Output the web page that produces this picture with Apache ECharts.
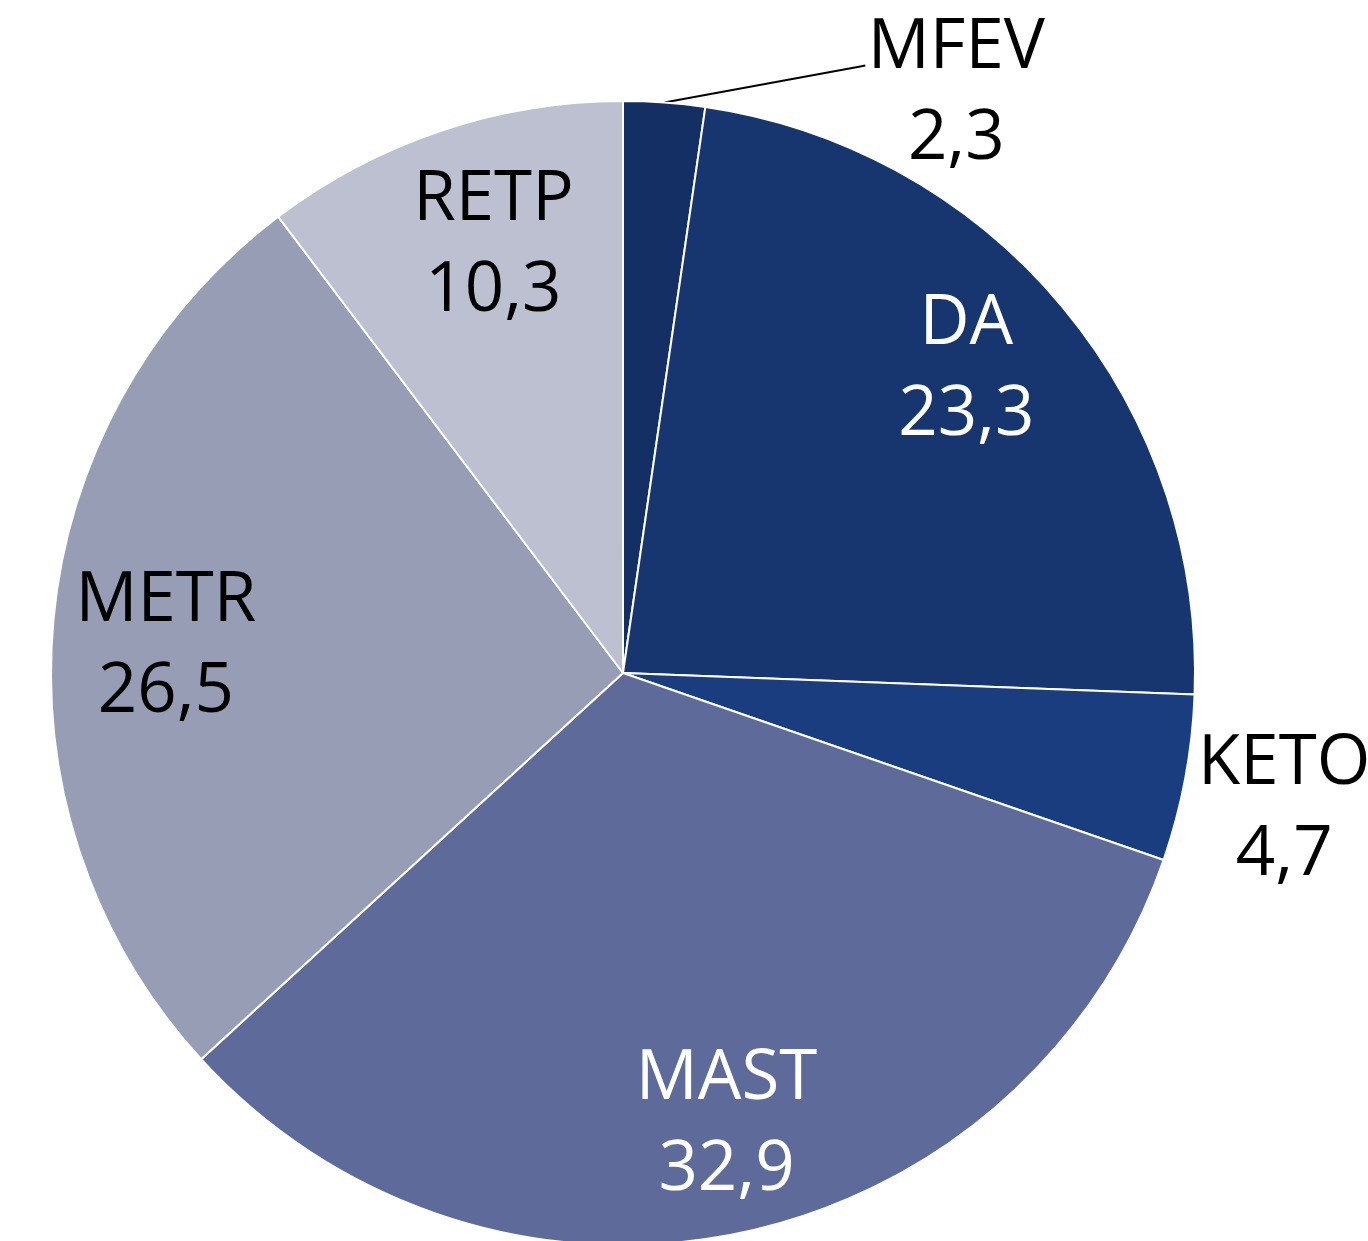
<!DOCTYPE html>
<html>
<head>
<meta charset="utf-8">
<script src="https://cdn.jsdelivr.net/npm/echarts@6/dist/echarts.min.js"></script>
<style>
html,body{margin:0;padding:0;background:#fff;}
#c{width:1368px;height:1241px;}
</style>
</head>
<body>
<div id="c"></div>
<script>
const categories = ['MFEV', 'DA', 'KETO', 'MAST', 'METR', 'RETP'];
const values = [2.3, 23.3, 4.7, 32.9, 26.5, 10.3];
const colors = ['#142f63', '#17366f', '#1a3d80', '#5e6b9a', '#989db6', '#bcc0d0'];
const innerLabelColors = { DA: '#ffffff', MAST: '#ffffff', METR: '#000000', RETP: '#000000' };
const outerLabels = ['MFEV', 'KETO'];
// small label nudges (style only)
const innerLabelNudge = { DA: [-11, -8], MAST: [10, 0], METR: [2, 16], RETP: [17, 10] };

const FONT = '"Open Sans", "Noto Sans", sans-serif';
const fmt = p => p.name + '\n' + String(p.value).replace('.', ',');
const labelBase = { fontFamily: FONT, fontSize: 69, lineHeight: 91, formatter: fmt, align: 'center' };

const mainData = categories.map((name, i) => {
  const d = { name, value: values[i], itemStyle: { color: colors[i] } };
  if (outerLabels.includes(name)) {
    d.label = Object.assign({ show: true, position: 'outside', color: '#000' }, labelBase);
    if (name === 'MFEV') {
      d.labelLine = { show: true, length: 10, length2: 190, smooth: false, lineStyle: { color: '#000', width: 1.8 } };
    } else {
      d.labelLine = { show: false, length: 6, length2: 6 };
    }
  } else {
    d.label = { show: false };
    d.labelLine = { show: false };
  }
  return d;
});

const innerData = categories.map((name, i) => {
  const show = !outerLabels.includes(name);
  return {
    name, value: values[i],
    label: Object.assign({ show, position: 'inside', color: innerLabelColors[name] || '#000' }, labelBase)
  };
});

const chart = echarts.init(document.getElementById('c'), null, { renderer: 'canvas' });
chart.setOption({
  backgroundColor: '#ffffff',
  animation: false,
  series: [
    {
      type: 'pie',
      center: [623, 673],
      radius: [0, 572],
      startAngle: 90,
      clockwise: true,
      avoidLabelOverlap: false,
      itemStyle: { borderColor: '#ffffff', borderWidth: 2 },
      emphasis: { disabled: true },
      data: mainData,
      labelLayout: function (params) {
        const name = categories[params.dataIndex];
        const pts = params.labelLinePoints;
        const r = params.labelRect;
        if (name === 'MFEV' && pts) {
          const p0 = pts[0];
          return {
            x: p0[0] + 292, y: p0[1] - 9, align: 'center', verticalAlign: 'middle',
            labelLinePoints: [p0, [p0[0] + 196, p0[1] - 36], [p0[0] + 201, p0[1] - 37]]
          };
        }
        if (name === 'KETO' && r) {
          return {
            x: r.x + r.width / 2 - 4, y: r.y + r.height / 2 + 30,
            align: 'center', verticalAlign: 'middle'
          };
        }
        return {};
      }
    },
    {
      type: 'pie',
      center: [623, 673],
      radius: [344, 572],
      startAngle: 90,
      clockwise: true,
      silent: true,
      avoidLabelOverlap: false,
      itemStyle: { color: 'rgba(0,0,0,0)', borderWidth: 0 },
      labelLine: { show: false },
      data: innerData,
      labelLayout: function (params) {
        const n = innerLabelNudge[categories[params.dataIndex]];
        return n ? { dx: n[0], dy: n[1] } : {};
      }
    }
  ]
});
</script>
</body>
</html>
